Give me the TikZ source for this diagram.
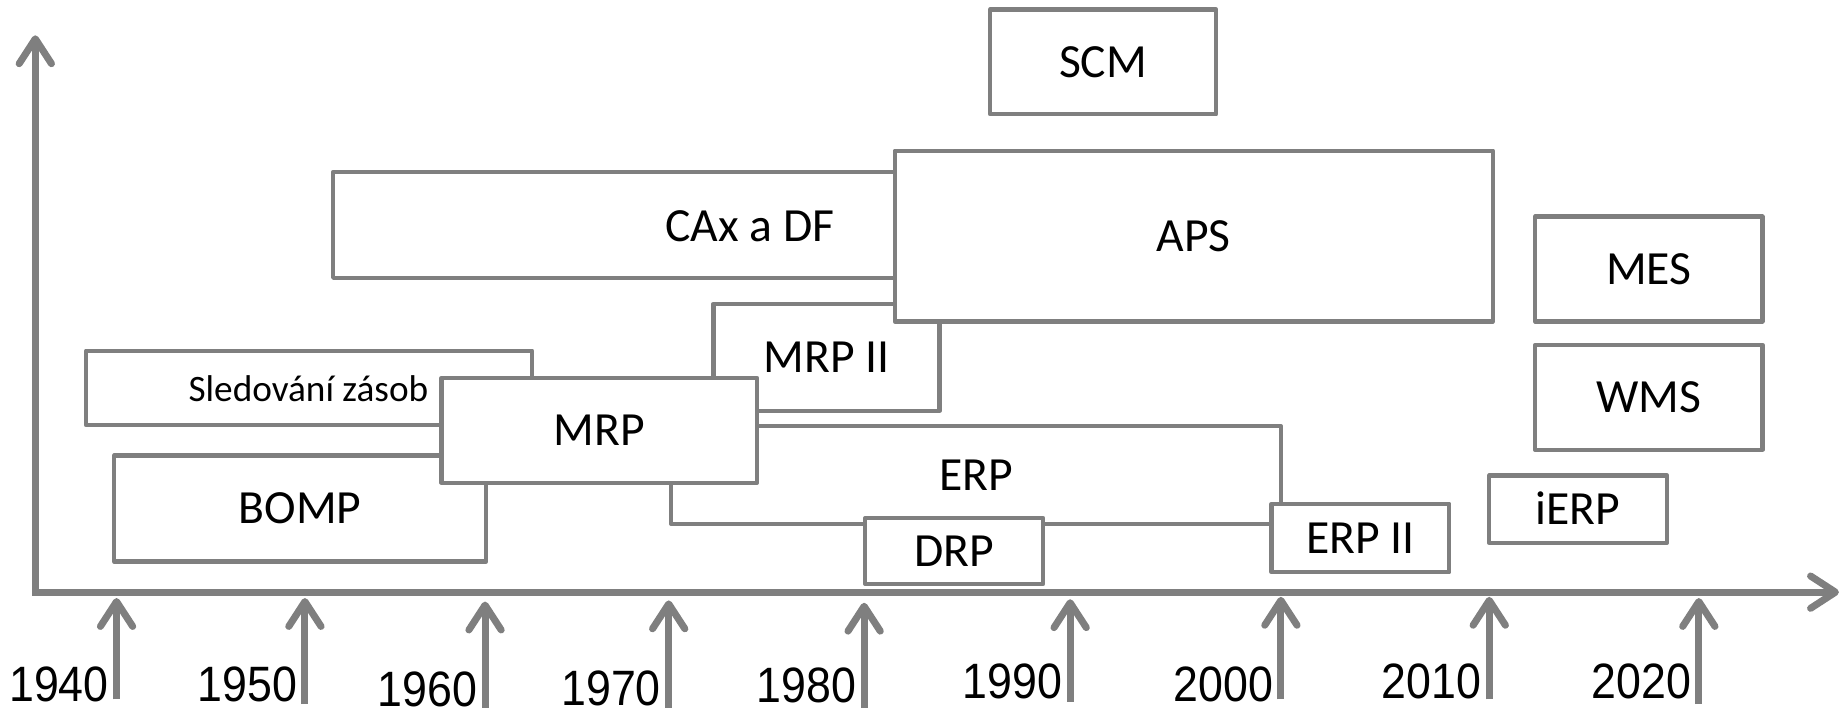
\documentclass[tikz,border=0pt]{standalone}
\usepackage{fontspec}
\setmainfont{Carlito}
\newfontfamily\yearfont[FakeStretch=0.9]{Liberation Sans}
\usetikzlibrary{arrows.meta,fit}
\definecolor{linegray}{HTML}{7F7F7F}
\begin{document}
\begin{tikzpicture}[x=0.01cm,y=-0.01cm,
  box/.style={draw=linegray, line width=1.05pt, line join=round, fill=white, inner sep=0pt},
  boxlabel/.style={inner sep=0pt, anchor=center, font=\fontsize{11.5pt}{13pt}\selectfont,
    text height=7.4pt, text depth=0pt},
  smalllabel/.style={inner sep=0pt, anchor=center, font=\fontsize{9pt}{11pt}\selectfont,
    text height=5.8pt, text depth=0pt},
  axis/.style={draw=linegray, line width=1.7pt, line join=miter},
  yeararrow/.style={draw=linegray, line width=1.7pt, -{Straight Barb[length=6pt,width=7.8pt,round]}},
  yearlabel/.style={inner sep=0pt, anchor=base east,
    font=\yearfont\fontsize{12pt}{14pt}\selectfont}]
\useasboundingbox (0,0) rectangle (1568,601);

% axes
\coordinate (ytip) at (30,30);
\coordinate (origin) at (30,503);
\coordinate (xtip) at (1562,503);
\draw[axis, {Straight Barb[length=6pt,width=7.8pt,round]}-{Straight Barb[length=6pt,width=7.8pt,round]}]
  (ytip) -- (origin) -- (xtip);

% decade markers: year / x / tip / bottom / baseline
\foreach \yr/\x/\tip/\bot/\base in {
  1940/99/508/594/596, 1950/259/508/598/596, 1960/412/511/601/600,
  1970/568/510/601/599, 1980/734/512/601/597, 1990/909/509/596/593,
  2000/1088/507/594/596, 2010/1265/507/594/593, 2020/1443/508/598/593}{
  \coordinate (b\yr) at (\x,\bot);
  \coordinate (t\yr) at (\x,\tip);
  \draw[yeararrow] (b\yr) -- (t\yr);
  \node[yearlabel] (l\yr) at (\x-6,\base) {\yr};
}

% systems, back to front
\node[box, fit={(73,298) (452,361)}] (sled) {};
\node[smalllabel] (sledlabel) at (262,331) {Sledování zásob};
\node[box, fit={(97,387) (413,477)}] (bomp) {};
\node[boxlabel] (bomplabel) at (bomp.center) {BOMP};
\node[box, fit={(283,146) (760,236)}] (cax) {};
\node[boxlabel] (caxlabel) at (637,192) {CAx a DF};
\node[box, fit={(606,258) (798,349)}] (mrpii) {};
\node[boxlabel] (mrpiilabel) at (mrpii.center) {MRP II};
\node[box, fit={(760,128) (1268,273)}] (aps) {};
\node[boxlabel] (apslabel) at (aps.center) {APS};
\node[box, fit={(570,362) (1088,445)}] (erp) {};
\node[boxlabel] (erplabel) at (erp.center) {ERP};
\node[box, fit={(375,321) (643,410)}] (mrp) {};
\node[boxlabel] (mrplabel) at (mrp.center) {MRP};
\node[box, fit={(735,440) (886,496)}] (drp) {};
\node[boxlabel] (drplabel) at (drp.center) {DRP};
\node[box, fit={(1080,428) (1231,486)}] (erpii) {};
\node[boxlabel] (erpiilabel) at (erpii.center) {ERP II};
\node[box, fit={(841,8) (1033,97)}] (scm) {};
\node[boxlabel] (scmlabel) at (scm.center) {SCM};
\node[box, fit={(1304,184) (1497,273)}] (mes) {};
\node[boxlabel] (meslabel) at (mes.center) {MES};
\node[box, fit={(1304,293) (1497,382)}] (wms) {};
\node[boxlabel] (wmslabel) at (wms.center) {WMS};
\node[box, fit={(1265,404) (1416,461)}] (ierp) {};
\node[boxlabel] (ierplabel) at (ierp.center) {iERP};
\end{tikzpicture}
\end{document}
